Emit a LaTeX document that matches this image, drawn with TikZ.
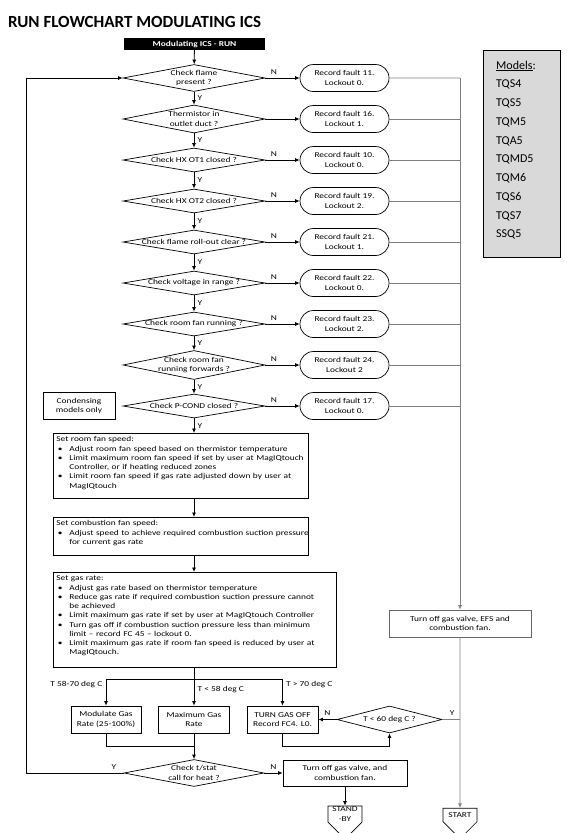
\documentclass[tikz,border=0pt]{standalone}
\usepackage{fontspec}
\setmainfont{Carlito}
\newfontfamily\chartfont{Carlito}[FakeStretch=1.25]
\usepackage{tikz}
\usetikzlibrary{shapes,arrows,arrows.meta,positioning,calc}

\newcommand\pbul[1]{\mbox{\makebox[13pt][l]{\hspace{1.5pt}\textbullet}#1}}
\newcommand\pind[1]{\mbox{\hspace*{13pt}#1}}

\begin{document}
\begin{tikzpicture}[x=1pt,y=-1pt,
  every node/.style={font=\chartfont\fontsize{7.5}{9.25}\selectfont},
  dec/.style={diamond,draw,line width=.7pt,inner sep=0pt,minimum width=142pt,minimum height=24pt},
  fault/.style={rounded rectangle,draw,line width=.7pt,minimum width=91pt,minimum height=27pt,align=center,inner sep=1pt},
  box/.style={rectangle,draw,line width=.7pt,align=center,minimum height=27pt,inner sep=1pt},
  proc/.style={rectangle,draw,line width=.7pt,anchor=north west,align=left,inner xsep=3pt,inner ysep=3pt,text height=5.5pt},
  offpage/.style={signal,signal to=south,draw,line width=.7pt,minimum width=34pt,minimum height=26pt,inner sep=1pt,align=center},
  flow/.style={line width=.8pt,->},
  grey/.style={draw=black!50,line width=.8pt},
  >={Latex[length=4.5pt,width=4pt]},
  on grid,node distance=41pt]

  \useasboundingbox (0,0) rectangle (567,833);

  % title and model list
  \node[anchor=base west,inner sep=0pt,font=\bfseries\fontsize{17}{20}\selectfont] (title) at (8,27) {RUN FLOWCHART MODULATING ICS};
  \node[draw,fill=black!15,line width=.8pt,anchor=north west,minimum width=77pt,minimum height=207pt] (models) at (483,50) {};
  \node[anchor=north west,align=left,inner sep=0pt,font=\fontsize{12}{18.75}\selectfont] (mlist) at (496,60.5)
    {\underline{Models}:\\TQS4\\TQS5\\TQM5\\TQA5\\TQMD5\\TQM6\\TQS6\\TQS7\\SSQ5};

  % checks
  \node[fill=black,text=white,minimum width=141pt,minimum height=12pt,inner sep=0pt,
        font=\chartfont\bfseries\fontsize{7.5}{9}\selectfont] (hdr) at (194.5,44) {Modulating ICS - RUN};
  \node[dec,minimum height=27pt,label={[align=center]center:Check flame\\present ?}] (d1) at (194,78) {};
  \node[dec,minimum height=28pt,below=of d1,label={[align=center]center:Thermistor in\\outlet duct ?}] (d2) {};
  \node[dec,below=of d2,label={center:Check HX OT1 closed ?}] (d3) {};
  \node[dec,below=of d3,label={center:Check HX OT2 closed ?}] (d4) {};
  \node[dec,below=of d4,label={center:Check flame roll-out clear ?}] (d5) {};
  \node[dec,below=of d5,label={center:Check voltage in range ?}] (d6) {};
  \node[dec,below=of d6,label={center:Check room fan running ?}] (d7) {};
  \node[dec,minimum height=29pt,below=of d7,label={[align=center]center:Check room fan\\running forwards ?}] (d8) {};
  \node[dec,below=of d8,label={center:Check P-COND closed ?}] (d9) {};
  \node[box,minimum width=72pt,left=115pt of d9] (cond) {Condensing\\models only};

  % faults
  \node[fault,right=150.5pt of d1] (f1) {Record fault 11.\\Lockout 0.};
  \node[fault,right=150.5pt of d2] (f2) {Record fault 16.\\Lockout 1.};
  \node[fault,right=150.5pt of d3] (f3) {Record fault 10.\\Lockout 0.};
  \node[fault,right=150.5pt of d4] (f4) {Record fault 19.\\Lockout 2.};
  \node[fault,right=150.5pt of d5] (f5) {Record fault 21.\\Lockout 1.};
  \node[fault,right=150.5pt of d6] (f6) {Record fault 22.\\Lockout 0.};
  \node[fault,right=150.5pt of d7] (f7) {Record fault 23.\\Lockout 2.};
  \node[fault,right=150.5pt of d8] (f8) {Record fault 24.\\Lockout 2};
  \node[fault,right=150.5pt of d9] (f9) {Record fault 17.\\Lockout 0.};

  % run steps
  \node[proc,text width=249pt,text depth=53pt] (fanspd) at (53,433) {Set room fan speed:\\
    \pbul{Adjust room fan speed based on thermistor temperature}\\
    \pbul{Limit maximum room fan speed if set by user at MagIQtouch}\\
    \pind{Controller, or if heating reduced zones}\\
    \pbul{Limit room fan speed if gas rate adjusted down by user at}\\
    \pind{MagIQtouch}};
  \node[proc,text width=249pt,text depth=26pt] (combspd) at (53,517) {Set combustion fan speed:\\
    \pbul{Adjust speed to achieve required combustion suction pressure}\\
    \pind{for current gas rate}};
  \node[proc,text width=277pt,text depth=83pt] (gasrate) at (53,572) {Set gas rate:\\
    \pbul{Adjust gas rate based on thermistor temperature}\\
    \pbul{Reduce gas rate if required combustion suction pressure cannot}\\
    \pind{be achieved}\\
    \pbul{Limit maximum gas rate if set by user at MagIQtouch Controller}\\
    \pbul{Turn gas off if combustion suction pressure less than minimum}\\
    \pind{limit – record FC 45 – lockout 0.}\\
    \pbul{Limit maximum gas rate if room fan speed is reduced by user at}\\
    \pind{MagIQtouch.}};

  \node[box,minimum width=71pt] (maxg) at (194,719.5) {Maximum Gas\\Rate};
  \node[box,minimum width=70pt,left=88pt of maxg] (modg) {Modulate Gas\\Rate (25-100\%)};
  \node[box,minimum width=71pt,right=88.5pt of maxg] (offg) {TURN GAS OFF\\Record FC4. L0.};
  \node[dec,minimum width=105pt,minimum height=27pt,right=107pt of offg,label={center:T < 60 deg C ?}] (t60) {};
  \node[dec,minimum width=140pt,minimum height=27pt,label={[align=center]center:Check t/stat\\call for heat ?}] (tstat) at (194,773) {};
  \node[box,minimum width=124pt,minimum height=26pt,right=151pt of tstat] (stby) {Turn off gas valve, and\\combustion fan.};
  \node[offpage,below=41pt of stby] (sb) {STAND\\-BY};
  \node[box,draw=black!60,minimum width=142pt] (efs) at (460,623.5) {Turn off gas valve, EFS and\\combustion fan.};
  \node[offpage,below=191.5pt of efs] (start) {START};

  \coordinate (rtop) at (460,78);
  \coordinate (br) at (194,679);
  \coordinate (lp) at (26,773);

  % main flow
  \draw[flow] (hdr) -- (d1);
  \draw[flow] (d1) -- node[right,pos=.5]{Y} (d2);
  \draw[flow] (d2) -- node[right,pos=.5]{Y} (d3);
  \draw[flow] (d3) -- node[right,pos=.5]{Y} (d4);
  \draw[flow] (d4) -- node[right,pos=.5]{Y} (d5);
  \draw[flow] (d5) -- node[right,pos=.5]{Y} (d6);
  \draw[flow] (d6) -- node[right,pos=.5]{Y} (d7);
  \draw[flow] (d7) -- node[right,pos=.5]{Y} (d8);
  \draw[flow] (d8) -- node[right,pos=.5]{Y} (d9);
  \draw[flow] (d9) -- node[right,pos=.5]{Y} (d9 |- fanspd.north);
  \draw[flow] (d9 |- fanspd.south) -- (d9 |- combspd.north);
  \draw[flow] (d9 |- combspd.south) -- (d9 |- gasrate.north);
  \draw[line width=.8pt] (d9 |- gasrate.south) -- (br);

  % faults
  \draw[flow] (d1) -- node[above,pos=.25]{N} (f1);
  \draw[flow] (d2) -- (f2);
  \draw[flow] (d3) -- node[above,pos=.25]{N} (f3);
  \draw[flow] (d4) -- node[above,pos=.25]{N} (f4);
  \draw[flow] (d5) -- node[above,pos=.25]{N} (f5);
  \draw[flow] (d6) -- node[above,pos=.25]{N} (f6);
  \draw[flow] (d7) -- node[above,pos=.25]{N} (f7);
  \draw[flow] (d8) -- node[above,pos=.25]{N} (f8);
  \draw[flow] (d9) -- node[above,pos=.25]{N} (f9);
  \draw[grey] (f1) -- (rtop);
  \draw[grey] (f2.east) -- (f2.east -| rtop);
  \draw[grey] (f3.east) -- (f3.east -| rtop);
  \draw[grey] (f4.east) -- (f4.east -| rtop);
  \draw[grey] (f5.east) -- (f5.east -| rtop);
  \draw[grey] (f6.east) -- (f6.east -| rtop);
  \draw[grey] (f7.east) -- (f7.east -| rtop);
  \draw[grey] (f8.east) -- (f8.east -| rtop);
  \draw[grey] (f9.east) -- (f9.east -| rtop);
  \draw[grey,->] (rtop) -- (efs);
  \draw[grey,->] (efs) -- (start);

  % gas rate branches
  \draw[flow] (br) -| node[pos=.6,left]{T 58-70 deg C} (modg);
  \draw[flow] (br) -- node[pos=.4,right]{T < 58 deg C} (maxg);
  \draw[flow] (br) -| node[pos=.6,right]{T > 70 deg C} (offg);
  \draw[line width=.8pt] (modg) |- (maxg |- 0,746);
  \draw[flow] (maxg) -- (tstat);
  \draw[flow] (offg.south) -- ++(0,13) -| (t60.south);
  \draw[flow] (t60) -- node[above,pos=.5]{N} (offg);
  \draw[grey] (t60) -- node[above,pos=.55]{Y} (t60 -| efs);

  % thermostat
  \draw[flow] (tstat) -- node[above,pos=.1]{Y} (lp) |- (d1);
  \draw[flow] (tstat) -- node[above,pos=.5]{N} (stby);
  \draw[flow] (stby) -- (sb);
\end{tikzpicture}
\end{document}
